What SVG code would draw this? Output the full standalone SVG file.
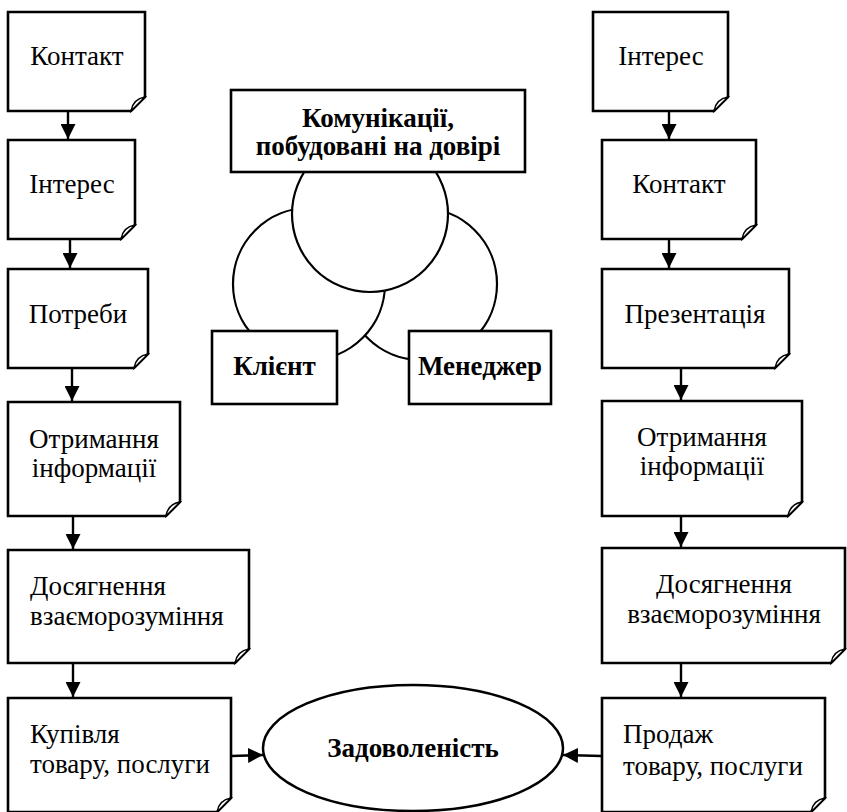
<svg xmlns="http://www.w3.org/2000/svg" width="847" height="812" viewBox="0 0 847 812">
<defs>
<style>
.box{fill:#fff;stroke:#000;stroke-width:2.6;stroke-linejoin:miter}
.fold{fill:#fff;stroke:#000;stroke-width:1.5}
.c{text-anchor:middle}
.b{font-weight:bold}
.circ{fill:#fff;stroke:#000;stroke-width:2.2}
.arr{stroke:#000;stroke-width:2.4;fill:none;marker-end:url(#ah)}
</style>
<marker id="ah" markerUnits="userSpaceOnUse" markerWidth="15" markerHeight="15" refX="15" refY="7.5" orient="auto">
<path d="M0,0 L15,7.5 L0,15 Z" fill="#000"/>
</marker>
</defs>
<rect width="847" height="812" fill="#fff"/>

<g id="connectors">
<line class="arr" x1="68" y1="111" x2="68" y2="139"/>
<line class="arr" x1="70" y1="239" x2="70" y2="268"/>
<line class="arr" x1="72" y1="368" x2="72" y2="401"/>
<line class="arr" x1="73" y1="516" x2="73" y2="549"/>
<line class="arr" x1="73" y1="663" x2="73" y2="697"/>
<line class="arr" x1="669" y1="111" x2="669" y2="139"/>
<line class="arr" x1="669" y1="239" x2="669" y2="268"/>
<line class="arr" x1="681" y1="368" x2="681" y2="400"/>
<line class="arr" x1="681" y1="516" x2="681" y2="547"/>
<line class="arr" x1="681" y1="663" x2="681" y2="697"/>
<line class="arr" x1="231" y1="756" x2="263" y2="755"/>
<line class="arr" x1="602" y1="756" x2="563" y2="755"/>
</g>

<g font-family="Liberation Serif, Times New Roman, serif" font-size="27" fill="#000">
<g id="L1"><path class="box" d="M8,12 H145 V97 L131,111 H8 Z"/><path class="fold" d="M131,111 Q133,99 145,97 Z"/><text class="c" x="77" y="65">Контакт</text></g>
<g id="L2"><path class="box" d="M8,140 H135 V225 L121,239 H8 Z"/><path class="fold" d="M121,239 Q123,227 135,225 Z"/><text class="c" x="72" y="193">Інтерес</text></g>
<g id="L3"><path class="box" d="M8,269 H148 V354 L134,368 H8 Z"/><path class="fold" d="M134,368 Q136,356 148,354 Z"/><text class="c" x="78" y="323">Потреби</text></g>
<g id="L4"><path class="box" d="M8,402 H180 V502 L166,516 H8 Z"/><path class="fold" d="M166,516 Q168,504 180,502 Z"/><text class="c" x="94" y="448">Отримання</text><text class="c" x="94" y="477">інформації</text></g>
<g id="L5"><path class="box" d="M8,550 H249 V649 L235,663 H8 Z"/><path class="fold" d="M235,663 Q237,651 249,649 Z"/><text x="30" y="595">Досягнення</text><text x="30" y="625">взаєморозуміння</text></g>
<g id="L6"><path class="box" d="M8,698 H231 V798 L217,812 H8 Z"/><path class="fold" d="M217,812 Q219,800 231,798 Z"/><text x="30" y="743">Купівля</text><text x="30" y="773">товару, послуги</text></g>

<g id="R1"><path class="box" d="M593,12 H728 V97 L714,111 H593 Z"/><path class="fold" d="M714,111 Q716,99 728,97 Z"/><text class="c" x="661" y="65">Інтерес</text></g>
<g id="R2"><path class="box" d="M602,140 H756 V225 L742,239 H602 Z"/><path class="fold" d="M742,239 Q744,227 756,225 Z"/><text class="c" x="679" y="193">Контакт</text></g>
<g id="R3"><path class="box" d="M602,269 H789 V354 L775,368 H602 Z"/><path class="fold" d="M775,368 Q777,356 789,354 Z"/><text class="c" x="695" y="323">Презентація</text></g>
<g id="R4"><path class="box" d="M602,401 H802 V502 L788,516 H602 Z"/><path class="fold" d="M788,516 Q790,504 802,502 Z"/><text class="c" x="702" y="446">Отримання</text><text class="c" x="702" y="475">інформації</text></g>
<g id="R5"><path class="box" d="M602,548 H845 V649 L831,663 H602 Z"/><path class="fold" d="M831,663 Q833,651 845,649 Z"/><text class="c" x="724" y="593">Досягнення</text><text class="c" x="724" y="623">взаєморозуміння</text></g>
<g id="R6"><path class="box" d="M602,698 H825 V798 L811,812 H602 Z"/><path class="fold" d="M811,812 Q813,800 825,798 Z"/><text x="623" y="743">Продаж</text><text x="623" y="775">товару, послуги</text></g>

<g id="venn">
<circle class="circ" cx="421" cy="284" r="76"/>
<circle class="circ" cx="309" cy="284" r="76"/>
<circle class="circ" cx="370" cy="214" r="78"/>
</g>
<g id="title"><rect class="box" x="231" y="90" width="294" height="82"/><text class="c b" x="378" y="127">Комунікації,</text><text class="c b" x="378" y="155">побудовані на довірі</text></g>
<g id="client"><rect class="box" x="212" y="331" width="125" height="73"/><text class="c b" x="274.5" y="375">Клієнт</text></g>
<g id="manager"><rect class="box" x="409" y="331" width="142" height="73"/><text class="c b" x="480" y="375">Менеджер</text></g>
<g id="satisfaction"><ellipse cx="413" cy="748" rx="150" ry="63" fill="#fff" stroke="#000" stroke-width="2.5"/><text class="c b" x="413" y="757">Задоволеність</text></g>
</g>
</svg>
